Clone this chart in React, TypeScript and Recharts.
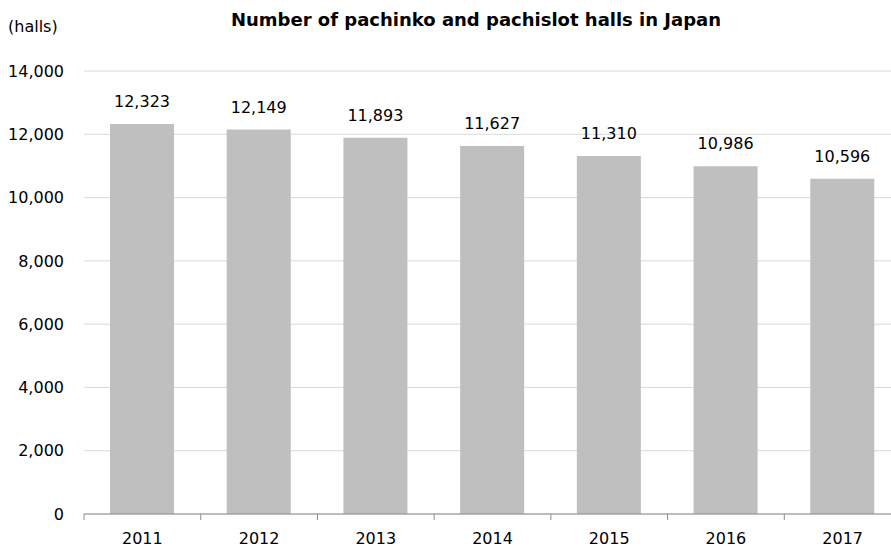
import React from "react";
import {
  BarChart,
  Bar,
  XAxis,
  YAxis,
  CartesianGrid,
  LabelList,
} from "recharts";

const YEARS = ["2011", "2012", "2013", "2014", "2015", "2016", "2017"];
const HALLS = [12323, 12149, 11893, 11627, 11310, 10986, 10596];
const Y_TICKS = [0, 2000, 4000, 6000, 8000, 10000, 12000, 14000];

const DATA = YEARS.map((year, i) => ({ year, halls: HALLS[i] }));

const FONT = "'DejaVu Sans', sans-serif";
const W = 905;
const H = 551;
const MARGIN = { top: 71, right: 4, left: 0, bottom: 0 };
const Y_W = 84;
const BAND = (W - MARGIN.left - MARGIN.right - Y_W) / YEARS.length;

const fmt = (v: number) => v.toLocaleString("en-US");

// year label plus Excel-style tick marks between categories
function YearTick(props: any) {
  const { x, y, payload, index } = props;
  const last = index === YEARS.length - 1;
  return (
    <g>
      <line x1={x - BAND / 2} x2={x - BAND / 2} y1={y} y2={y + 6} stroke="#8c8c8c" />
      {last && <line x1={x + BAND / 2} x2={x + BAND / 2} y1={y} y2={y + 6} stroke="#8c8c8c" />}
      <text x={x} y={y + 24} textAnchor="middle" dominantBaseline="central" fill="#000" fontSize={16} fontFamily={FONT}>
        {payload.value}
      </text>
    </g>
  );
}

export default function App() {
  return (
    <div style={{ position: "absolute", left: 0, top: 0, width: 891, height: 551, overflow: "hidden", background: "#fff", fontFamily: FONT }}>
      <div style={{ position: "absolute", left: 8, top: 17, fontSize: 16, lineHeight: "20px", color: "#000" }}>(halls)</div>
      <div style={{ position: "absolute", left: 0, width: 952, top: 9, textAlign: "center", fontSize: 18, lineHeight: "22px", fontWeight: "bold", color: "#000" }}>
        Number of pachinko and pachislot halls in Japan
      </div>
      <BarChart width={W} height={H} data={DATA} margin={MARGIN}>
        <CartesianGrid vertical={false} stroke="#d9d9d9" />
        <XAxis
          dataKey="year"
          axisLine={{ stroke: "#8c8c8c" }}
          tickLine={false}
          tickSize={0}
          tickMargin={0}
          height={37}
          tick={<YearTick />}
          interval={0}
        />
        <YAxis
          domain={[0, 14000]}
          ticks={Y_TICKS}
          width={Y_W}
          axisLine={false}
          tickLine={false}
          tickMargin={14}
          tickFormatter={fmt}
          tick={{ fill: "#000", fontSize: 16, fontFamily: FONT }}
        />
        <Bar dataKey="halls" fill="#bfbfbf" barSize={64} isAnimationActive={false}>
          <LabelList dataKey="halls" position="top" offset={17} formatter={(v: any) => fmt(Number(v))} fill="#000" fontSize={16} fontFamily={FONT} />
        </Bar>
      </BarChart>
    </div>
  );
}
